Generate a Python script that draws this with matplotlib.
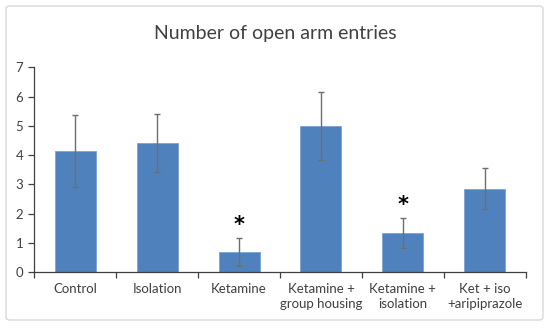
import matplotlib
matplotlib.use('Agg')
import matplotlib.pyplot as plt
from matplotlib.patches import FancyBboxPatch

groups = ['Control', 'Isolation', 'Ketamine', 'Ketamine +\ngroup housing',
          'Ketamine +\nisolation', 'Ket + iso\n+aripiprazole']
means = [4.14, 4.42, 0.70, 4.99, 1.34, 2.85]
errors = [1.22, 0.98, 0.47, 1.16, 0.50, 0.70]
significant = [False, False, True, False, True, False]

plt.rcParams['font.family'] = ['Lato', 'DejaVu Sans']

fig = plt.figure(figsize=(5.5, 3.29), dpi=100)
# light rounded frame around the whole chart
frame = FancyBboxPatch((6 / 550, 1 - 320 / 329), 537 / 550, 314 / 329,
                       boxstyle='round,pad=0,rounding_size=0.008',
                       transform=fig.transFigure, facecolor='white',
                       edgecolor='#d9d9d9', linewidth=1.0, zorder=-5)
fig.patches.append(frame)

ax = fig.add_axes([34.3 / 550, 1 - 272.3 / 329, 491.4 / 550, 205 / 329])
ax.set_facecolor('none')

x = list(range(len(groups)))
ax.bar(x, means, width=0.5, color='#4f81bd', edgecolor='#7da3d3', linewidth=0.6,
       yerr=errors, error_kw=dict(ecolor='#6e6e6e', elinewidth=1.0, capsize=2.5, capthick=1.0))

for i, sig in enumerate(significant):
    if sig:
        ax.text(x[i], means[i] + errors[i] + 0.12, '*', ha='center', va='bottom',
                fontsize=15, fontweight='bold', color='black', family='DejaVu Sans')

ax.set_xlim(-0.5, len(groups) - 0.5)
ax.set_ylim(0, 7)
ax.set_yticks(range(8))
ax.set_xticks([i - 0.5 for i in range(len(groups) + 1)], minor=False)
ax.set_xticklabels([])
ax.set_xticks(x, minor=True)
ax.set_xticklabels(groups, minor=True, fontsize=9.5, color='#404040', linespacing=1.3)
ax.tick_params(axis='x', which='minor', length=0, pad=8)
ax.tick_params(axis='x', which='major', length=4, color='#404040', width=0.9)
ax.tick_params(axis='y', length=4, color='#404040', width=0.9, labelsize=9.5,
               labelcolor='#404040', pad=4)

for side in ['top', 'right']:
    ax.spines[side].set_visible(False)
ax.spines['left'].set_color('#404040')
ax.spines['bottom'].set_color('#404040')
ax.spines['left'].set_linewidth(0.9)
ax.spines['bottom'].set_linewidth(0.9)

fig.text(275 / 550, 1 - 33 / 329, 'Number of open arm entries', ha='center', va='center',
         fontsize=14, color='#404040')

fig.savefig('out.png', dpi=100)
